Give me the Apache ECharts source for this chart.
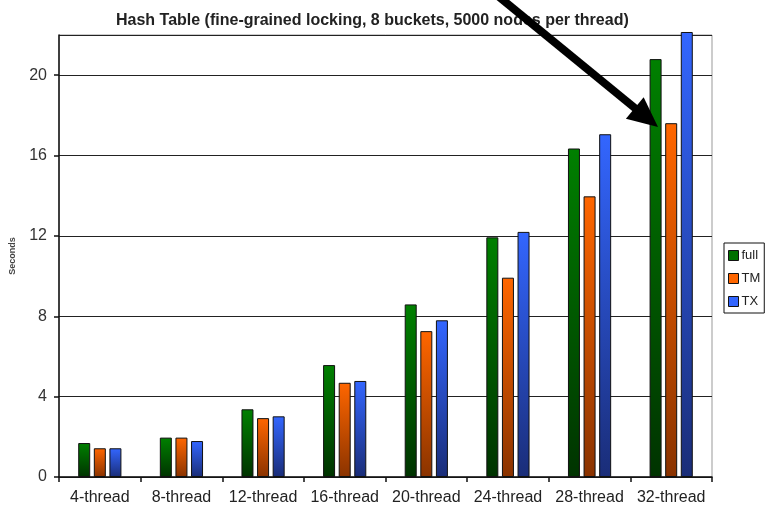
<!DOCTYPE html>
<html>
<head>
<meta charset="utf-8">
<script src="https://cdn.jsdelivr.net/npm/echarts@6/dist/echarts.min.js"></script>
<style>
  html, body { margin: 0; padding: 0; background: #fff; }
  #chart { width: 769px; height: 513px; }
</style>
</head>
<body>
<div id="chart"></div>
<script>
// Run times for the fine-grained hash table benchmark
const categories = ['4-thread', '8-thread', '12-thread', '16-thread', '20-thread', '24-thread', '28-thread', '32-thread'];
const fullTimes = [1.69, 1.96, 3.37, 5.57, 8.59, 11.93, 16.35, 20.8];
const tmTimes   = [1.43, 1.96, 2.93, 4.69, 7.26, 9.92, 13.97, 17.61];
const txTimes   = [1.43, 1.79, 3.02, 4.78, 7.80, 12.20, 17.06, 22.15];
const seriesNames = ['full', 'TM', 'TX'];

const FONT = '"Liberation Sans", Arial, sans-serif';

function vGrad(top, bottom) {
  return new echarts.graphic.LinearGradient(0, 0, 0, 1, [
    { offset: 0, color: top },
    { offset: 1, color: bottom }
  ]);
}

const palette = {
  full: { top: '#008000', bottom: '#003300', flat: '#007000' },
  TM:   { top: '#ff6600', bottom: '#8a3300', flat: '#ff6600' },
  TX:   { top: '#3366ff', bottom: '#1a2d78', flat: '#3366ff' }
};

function barSeries(name, values) {
  const c = palette[name];
  return {
    name: name,
    type: 'bar',
    data: values,
    barWidth: 12,
    barGap: '30%',
    clip: false,
    itemStyle: {
      color: vGrad(c.top, c.bottom),
      borderColor: '#111',
      borderWidth: 1
    }
  };
}

// Pointer arrow drawn over the 32-thread group
const arrowTail = [498, -4];
const arrowTip = [658, 127];
function arrowHead(tip, tail, len, half) {
  const dx = tip[0] - tail[0], dy = tip[1] - tail[1];
  const d = Math.sqrt(dx * dx + dy * dy);
  const ux = dx / d, uy = dy / d;
  const bx = tip[0] - ux * len, by = tip[1] - uy * len;
  return [tip, [bx - uy * half, by + ux * half], [bx + uy * half, by - ux * half]];
}
const head = arrowHead(arrowTip, arrowTail, 30, 14);
const lineEnd = [arrowTip[0] - (arrowTip[0] - arrowTail[0]) * 0.12, arrowTip[1] - (arrowTip[1] - arrowTail[1]) * 0.12];

const chart = echarts.init(document.getElementById('chart'), null, { renderer: 'canvas' });
chart.setOption({
  animation: false,
  backgroundColor: '#fff',
  title: {
    text: 'Hash Table (fine-grained locking, 8 buckets, 5000 nodes per thread)',
    left: 111,
    top: 8,
    textStyle: { fontFamily: FONT, fontSize: 16, fontWeight: 'bold', color: '#222' }
  },
  legend: {
    orient: 'vertical',
    left: 724,
    top: 243,
    padding: [6, 4, 5, 4],
    itemWidth: 10,
    itemHeight: 10,
    itemGap: 10,
    borderColor: '#111',
    borderWidth: 1,
    textStyle: { fontFamily: FONT, fontSize: 13, color: '#222', padding: [0, 0, 0, -2] },
    data: seriesNames.map(n => ({
      name: n,
      icon: 'rect',
      itemStyle: { color: palette[n].flat, borderColor: '#111', borderWidth: 1 }
    }))
  },
  grid: {
    left: 57,
    right: 57,
    top: 35,
    bottom: 36,
    show: true,
    borderColor: '#999',
    borderWidth: 1,
    backgroundColor: 'transparent'
  },
  xAxis: {
    type: 'category',
    data: categories,
    axisLine: { lineStyle: { color: '#111', width: 1.5 } },
    axisTick: { show: true, length: 5, interval: 0, lineStyle: { color: '#111', width: 1.5 } },
    axisLabel: { fontFamily: FONT, fontSize: 16, color: '#222', margin: 13, interval: 0, hideOverlap: false }
  },
  yAxis: {
    type: 'value',
    min: 0,
    max: 22,
    interval: 4,
    name: 'Seconds',
    nameLocation: 'middle',
    nameRotate: 90,
    nameGap: 42,
    nameTextStyle: { fontFamily: FONT, fontSize: 9, fontWeight: 'bold', color: '#444' },
    axisLine: { show: true, lineStyle: { color: '#111', width: 1.5 } },
    axisTick: { show: true, length: 5, lineStyle: { color: '#111', width: 1.5 } },
    axisLabel: { fontFamily: FONT, fontSize: 16, color: '#333', margin: 12, showMaxLabel: false },
    splitLine: { show: true, lineStyle: { color: '#222', width: 1.2 } }
  },
  series: [
    barSeries('full', fullTimes),
    barSeries('TM', tmTimes),
    barSeries('TX', txTimes)
  ],
  graphic: [
    {
      type: 'line',
      z: 100,
      shape: { x1: arrowTail[0], y1: arrowTail[1], x2: lineEnd[0], y2: lineEnd[1] },
      style: { stroke: '#000', lineWidth: 8 }
    },
    {
      type: 'polygon',
      z: 100,
      shape: { points: head },
      style: { fill: '#000' }
    }
  ]
});
</script>
</body>
</html>
